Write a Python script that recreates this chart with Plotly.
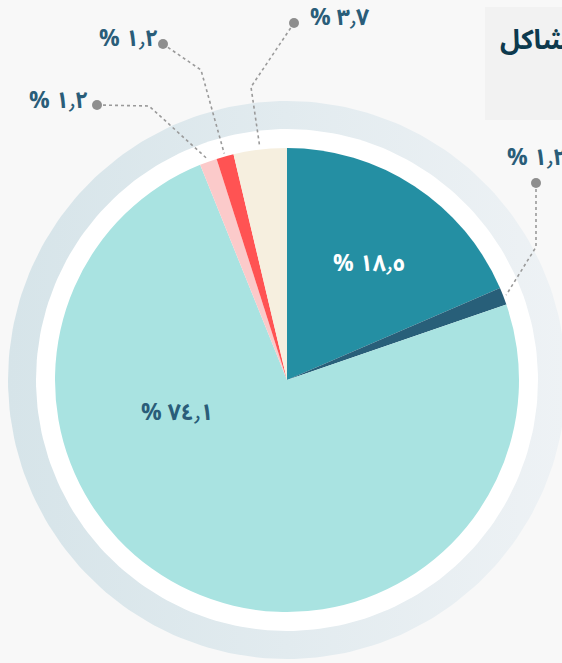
import math
import plotly.graph_objects as go

# Share of each category, clockwise from 12 o'clock
values = [18.5, 1.2, 74.1, 1.2, 1.2, 3.7]
colors = ["#248fa3", "#285f79", "#a9e3e1", "#fbcaca", "#ff5353", "#f6efdf"]
title_text = "المشاكل"

W, H = 562, 663
CX, CY, R = 287, 380, 232          # pie centre and radius in pixels
RING_OUT, RING_IN = 279, 251        # decorative outer ring

LABEL_COLOR = "#2a5d79"
FONT = "Noto Sans Arabic, DejaVu Sans, sans-serif"
LABEL_SIZE = 23


def ar_num(v):
    digits = "٠١٢٣٤٥٦٧٨٩"
    s = f"{v:.1f}"
    return "".join(digits[int(c)] if c.isdigit() else "٫" for c in s)


def label(v):
    return "% " + ar_num(v)


total = sum(values)
mids = []
acc = 0.0
for v in values:
    mids.append((acc + v / 2) / total * 2 * math.pi)
    acc += v


def edge_point(i, r):
    a = mids[i]
    return CX + r * math.sin(a), CY - r * math.cos(a)


def circle(r, n=240):
    xs = [CX + r * math.cos(2 * math.pi * k / n) for k in range(n + 1)]
    ys = [CY + r * math.sin(2 * math.pi * k / n) for k in range(n + 1)]
    return xs, ys


fig = go.Figure()

# outer gradient ring + white band
xo, yo = circle(RING_OUT)
fig.add_trace(go.Scatter(
    x=xo, y=yo, mode="lines", line=dict(width=0), fill="toself",
    fillgradient=dict(type="horizontal",
                      colorscale=[[0, "#d6e4e9"], [0.5, "#e2ebef"], [1, "#eef2f5"]]),
    hoverinfo="skip", showlegend=False))
xi, yi = circle(RING_IN)
fig.add_trace(go.Scatter(
    x=xi, y=yi, mode="lines", line=dict(width=0), fill="toself",
    fillcolor="#ffffff", hoverinfo="skip", showlegend=False))

# leader lines for the small slices: (slice index, dot, elbow, label pos, anchor)
leaders = [
    (1, (536, 183), (536, 247), (505, 157), "left"),
    (3, (97, 105), (149, 106), (58, 100), "center"),
    (4, (163, 44), (201, 70), (128, 38), "center"),
    (5, (294, 23), (251, 87), (340, 17), "center"),
]
for idx, dot, elbow, lpos, anchor in leaders:
    ex, ey = edge_point(idx, R + 3)
    fig.add_trace(go.Scatter(
        x=[dot[0], elbow[0], ex], y=[dot[1], elbow[1], ey], mode="lines",
        line=dict(color="#9a9a9a", width=1.6, dash="dot"),
        hoverinfo="skip", showlegend=False))
    fig.add_trace(go.Scatter(
        x=[dot[0]], y=[dot[1]], mode="markers",
        marker=dict(size=10, color="#8e8e8e"),
        hoverinfo="skip", showlegend=False))
    fig.add_annotation(
        x=lpos[0], y=lpos[1], xref="x", yref="y", text=label(values[idx]),
        showarrow=False, xanchor=anchor, yanchor="middle",
        font=dict(family=FONT, size=LABEL_SIZE, color=LABEL_COLOR, weight="bold"))

# the pie itself
fig.add_trace(go.Pie(
    values=values, sort=False, direction="clockwise", rotation=0,
    marker=dict(colors=colors, line=dict(width=0)),
    textinfo="none", hoverinfo="skip", showlegend=False,
    domain=dict(x=[(CX - R) / W, (CX + R) / W],
                y=[1 - (CY + R) / H, 1 - (CY - R) / H])))

# labels inside the two large slices
fig.add_annotation(x=369, y=263, xref="x", yref="y", text=label(values[0]),
                   showarrow=False,
                   font=dict(family=FONT, size=LABEL_SIZE, color="#ffffff", weight="bold"))
fig.add_annotation(x=177, y=412, xref="x", yref="y", text=label(values[2]),
                   showarrow=False,
                   font=dict(family=FONT, size=LABEL_SIZE, color=LABEL_COLOR, weight="bold"))

# title card in the top-right corner
fig.add_shape(type="rect", xref="x", yref="y", x0=485, x1=600, y0=7, y1=120,
              fillcolor="#f2f2f2", line=dict(width=0), layer="below")
fig.add_annotation(x=498, y=40, xref="x", yref="y", text=title_text,
                   showarrow=False, xanchor="left", yanchor="middle",
                   font=dict(family=FONT, size=27, color="#0d3a4e", weight="bold"))

fig.update_layout(
    width=W, height=H, margin=dict(l=0, r=0, t=0, b=0),
    paper_bgcolor="#f8f8f8", plot_bgcolor="rgba(0,0,0,0)",
    xaxis=dict(range=[0, W], visible=False, fixedrange=True),
    yaxis=dict(range=[H, 0], visible=False, fixedrange=True),
)

fig.write_html("out.html")
